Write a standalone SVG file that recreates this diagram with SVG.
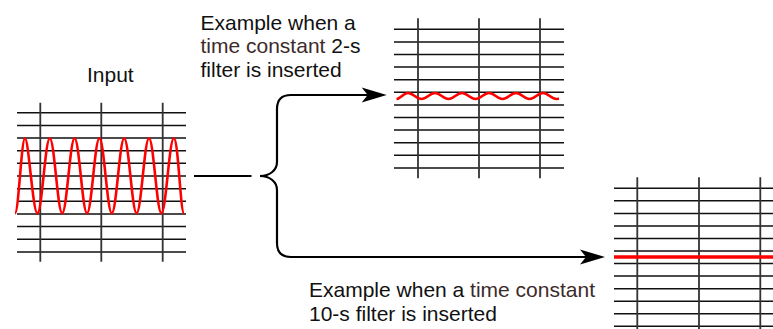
<svg xmlns="http://www.w3.org/2000/svg" width="773" height="329" viewBox="0 0 773 329">
<style>
.txt{font-family:"Liberation Sans",Arial,sans-serif;font-size:21px;fill:#111}
.tc{fill:#3d2b2b}
.h{stroke:#111;stroke-width:1.5;fill:none}
.v{stroke:#333;stroke-width:1.8;fill:none}
.wave{stroke:#ff0000;fill:none;stroke-width:2.6;stroke-linejoin:round}
.conn{stroke:#000;stroke-width:2.2;fill:none}
</style>
<defs>
<path id="ah" d="M0,0 L-25,-7.5 L-19,0 L-25,7.5 Z" fill="#000"/>
</defs>
<g id="input">
<text class="txt" x="87" y="82">Input</text>
<path class="h" d="M17,112.7H186M17,125.4H186M17,138H186M17,150.7H186M17,163.3H186M17,176H186M17,188.7H186M17,201.3H186M17,214H186M17,226.6H186M17,239.3H186M17,252H186"/>
<path class="v" d="M40.3,102.7V261.7M101.3,102.7V261.7M162.7,102.7V261.7"/>
<path class="wave" d="M15,213.3 C18.6,213.3 21.4,138.3 25,138.3 S32.88,213.3 37.4,213.3 S45.28,138.3 49.8,138.3 S57.68,213.3 62.2,213.3 S70.08,138.3 74.6,138.3 S82.48,213.3 87,213.3 S94.88,138.3 99.4,138.3 S107.28,213.3 111.8,213.3 S119.68,138.3 124.2,138.3 S132.08,213.3 136.6,213.3 S144.48,138.3 149,138.3 S156.88,213.3 161.4,213.3 S169.28,138.3 173.8,138.3 S180.4,213.3 184,213.3"/>
</g>
<g id="output-2s">
<text class="txt" x="200.5" y="29.5">Example when a</text>
<text class="txt" x="200.5" y="53"><tspan class="tc">time constant</tspan> 2-s</text>
<text class="txt" x="200.5" y="76.5">filter is inserted</text>
<path class="h" d="M394,29.3H564M394,41.9H564M394,54.5H564M394,67.1H564M394,79.7H564M394,92.3H564M394,104.9H564M394,117.5H564M394,130.1H564M394,142.7H564M394,155.3H564M394,168H564"/>
<path class="v" d="M418,18.3V178.3M479,18.3V178.3M540,18.3V178.3"/>
<path class="wave" d="M396.5,99 C400.5,99 403.1,93 408,93 S416.58,99 421.5,99 S430.08,93 435,93 S443.58,99 448.5,99 S457.08,93 462,93 S470.58,99 475.5,99 S484.08,93 489,93 S497.58,99 502.5,99 S511.08,93 516,93 S524.58,99 529.5,99 S538.08,93 543,93 S551.58,99 556.5,99 L559,98.8"/>
</g>
<g id="output-10s">
<text class="txt" x="309" y="297">Example when a <tspan class="tc">time constant</tspan></text>
<text class="txt" x="309" y="320.5">10-s filter is inserted</text>
<path class="h" d="M614,188.3H773M614,200.8H773M614,213.4H773M614,225.9H773M614,238.5H773M614,251H773M614,263.6H773M614,276.1H773M614,288.7H773M614,301.2H773M614,313.8H773M614,326.3H773"/>
<path class="v" d="M637.3,177.3V329M699,177.3V329M760.3,177.3V329"/>
<path d="M614,257H773" stroke="#ff0000" stroke-width="3.6" fill="none"/>
</g>
<g id="connectors">
<path class="conn" d="M194,176H251.5"/>
<path class="conn" d="M260,176 C270,176 277,170 277,162 V109 Q277,95 291,95 H368"/>
<path class="conn" d="M260,176 C270,176 277,182 277,190 V243 Q277,257 291,257 H587"/>
<use href="#ah" transform="translate(386.7,95)"/>
<use href="#ah" transform="translate(605,257)"/>
</g>
</svg>
